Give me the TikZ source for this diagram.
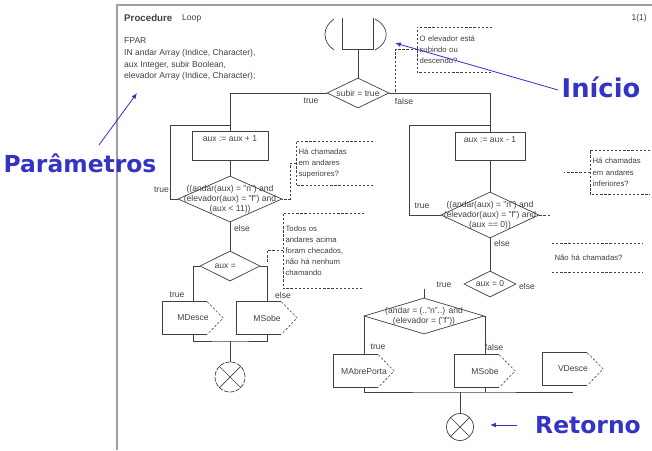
\documentclass[tikz,border=0pt]{standalone}
\usepackage{fontspec}
\setmainfont{Liberation Sans}
\newfontfamily\callfont{DejaVu Sans}
\usetikzlibrary{shapes.geometric,calc,arrows.meta}

\newcommand{\pxu}{0.03cm}
\definecolor{ink}{gray}{0.25}
\definecolor{callblue}{RGB}{52,52,196}

\tikzset{
  flow/.style={draw=ink, line width=0.6pt},
  task/.style={draw=ink, line width=0.6pt, rectangle, inner sep=0pt},
  decision/.style={draw=ink, line width=0.6pt, diamond, inner sep=0pt},
  dtext/.style={font=\fontsize{7.3}{8.4}\selectfont, align=center, inner sep=0pt, text=ink},
  lbl/.style={font=\fontsize{7.3}{8.6}\selectfont, inner sep=0pt, text=ink},
  outbox/.style={rectangle, inner sep=0pt, minimum width=60*\pxu, minimum height=32*\pxu,
    font=\fontsize{7.3}{8.6}\selectfont, text=ink},
  note/.style={draw=ink, line width=0.5pt, dash pattern=on 2pt off 1.5pt},
  notetext/.style={font=\fontsize{6.6}{9.5}\selectfont, align=left, anchor=north west,
    inner sep=2pt, text=ink},
  ret/.style={draw=ink, line width=0.6pt, circle, inner sep=0pt},
  callout/.style={font=\callfont\bfseries\fontsize{20}{24}\selectfont, text=callblue, inner sep=0pt},
  callarrow/.style={draw=callblue, line width=0.7pt, -{Latex[length=5pt,width=4pt]}},
}

\begin{document}
\begin{tikzpicture}[x=\pxu, y=-\pxu]
  \useasboundingbox (0,0) rectangle (652,450);
  % page frame and heading
  \draw[gray!75, line width=1.4pt] (117,450) -- (117,5) -- (652,5);
  \node[font=\bfseries\fontsize{8.3}{9}\selectfont, anchor=west, inner sep=0pt, text=ink] (proc) at (124,18) {Procedure};
  \node[lbl, anchor=west] (procname) at (182,18) {Loop};
  \node[lbl, anchor=east] (page) at (647,18) {1(1)};
  \node[lbl, anchor=north west, align=left, font=\fontsize{7.3}{10.2}\selectfont] (fpar) at (124,37)
    {FPAR\\IN andar Array (Indice, Character),\\aux Integer, subir Boolean,\\elevador Array (Indice, Character);};

  % start symbol
  \node[minimum width=30*\pxu, minimum height=31*\pxu, inner sep=0pt] (start) at (358,34) {};
  \draw[flow] (start.north west) -- (start.south west) -- (start.south east) -- (start.north east);
  \draw[flow] (334,19) .. controls (322,27) and (322,42) .. (334,50);
  \draw[flow] (375,19) .. controls (390,27) and (390,42) .. (375,50);

  % first decision
  \node[decision, minimum width=62*\pxu, minimum height=30*\pxu, label={[dtext]center:subir = true}] (d1) at (358,93) {};
  \draw[flow] (start.south) -- (d1.north);
  \node[lbl] (d1true) at (311,101) {true};
  \node[lbl] (d1false) at (404,101) {false};

  % going up
  \node[task, minimum width=76*\pxu, minimum height=29*\pxu,
    label={[lbl, anchor=north, yshift=-4pt]north:{aux := aux + 1}}] (inc) at (230,146) {};
  \draw[flow] (d1.west) -| (inc.north);
  \node[decision, minimum width=104*\pxu, minimum height=46*\pxu,
    label={[dtext]center:{((andar(aux) = "n") and\\(elevador(aux) = "f") and\\(aux < 11))}}] (d2) at (230,199) {};
  \draw[flow] (inc.south) -- (d2.north);
  \coordinate (lp1) at (170,125);
  \coordinate (lj1) at (230,125);
  \draw[flow] (d2.west) -| (lp1) -- (lj1);
  \node[lbl, anchor=east] (d2true) at (169,190) {true};
  \node[lbl, anchor=west] (d2else) at (234,228) {else};
  \node[decision, minimum width=60*\pxu, minimum height=30*\pxu,
    label={[dtext, xshift=-3pt]center:{aux = }}] (d3) at (230,266) {};
  \draw[flow] (d2.south) -- (d3.north);
  \node[lbl] (d3true) at (177,295) {true};
  \node[lbl] (d3else) at (283,295) {else};

  \node[outbox] (desce) at (193,318) {MDesce};
  \draw[flow] ($(desce.north east)+(-16,0)$) -- (desce.north west) -- (desce.south west) -- ($(desce.south east)+(-16,0)$);
  \draw[note] ($(desce.north east)+(-16,0)$) -- (desce.east) -- ($(desce.south east)+(-16,0)$);
  \node[outbox] (sobe1) at (267,318) {MSobe};
  \draw[flow] ($(sobe1.north east)+(-16,0)$) -- (sobe1.north west) -- (sobe1.south west) -- ($(sobe1.south east)+(-16,0)$);
  \draw[note] ($(sobe1.north east)+(-16,0)$) -- (sobe1.east) -- ($(sobe1.south east)+(-16,0)$);
  \draw[flow] (d3.west) -| (desce.north);
  \draw[flow] (d3.east) -| (sobe1.north);

  \coordinate (bus1) at (230,341);
  \draw[flow] (desce.south) |- (bus1) -| (sobe1.south);
  \node[ret, minimum size=30*\pxu, dash pattern=on 4pt off 1pt] (end1) at (230,377) {};
  \draw[flow] (bus1) -- (end1.north);
  \draw[flow] (end1.north west) -- (end1.south east) (end1.north east) -- (end1.south west);

  % going down
  \node[task, minimum width=70*\pxu, minimum height=28*\pxu,
    label={[lbl, anchor=north, yshift=-4pt]north:{aux := aux - 1}}] (dec) at (490,146) {};
  \draw[flow] (d1.east) -| (dec.north);
  \node[decision, minimum width=98*\pxu, minimum height=46*\pxu,
    label={[dtext]center:{((andar(aux) = "n") and\\(elevador(aux) = "f") and\\(aux == 0))}}] (d4) at (490,215) {};
  \draw[flow] (dec.south) -- (d4.north);
  \coordinate (lp2) at (409,125);
  \coordinate (lj2) at (490,125);
  \draw[flow] (d4.west) -| (lp2) -- (lj2);
  \node[lbl] (d4true) at (422,206) {true};
  \node[lbl, anchor=west] (d4else) at (494,243) {else};
  \node[decision, minimum width=52*\pxu, minimum height=26*\pxu,
    label={[dtext]center:{aux = 0}}] (d5) at (490,284) {};
  \draw[flow] (d4.south) -- (d5.north);
  \node[lbl] (d5true) at (444,285) {true};
  \node[lbl] (d5else) at (527,286) {else};

  \node[decision, minimum width=120*\pxu, minimum height=36*\pxu,
    label={[dtext]center:{(andar = (.."n"..) and\\(elevador = ("f"))}}] (d6) at (424,316) {};
  \coordinate (t5) at (424,289);
  \draw[flow] (t5) -- (d6.north);
  \node[lbl] (d6true) at (378,347) {true};
  \node[lbl] (d6false) at (494,347) {false};

  \node[outbox] (abre) at (364,371) {MAbrePorta};
  \draw[flow] ($(abre.north east)+(-16,0)$) -- (abre.north west) -- (abre.south west) -- ($(abre.south east)+(-16,0)$);
  \draw[note] ($(abre.north east)+(-16,0)$) -- (abre.east) -- ($(abre.south east)+(-16,0)$);
  \node[outbox] (sobe2) at (485,371) {MSobe};
  \draw[flow] ($(sobe2.north east)+(-16,0)$) -- (sobe2.north west) -- (sobe2.south west) -- ($(sobe2.south east)+(-16,0)$);
  \draw[note] ($(sobe2.north east)+(-16,0)$) -- (sobe2.east) -- ($(sobe2.south east)+(-16,0)$);
  \node[outbox] (vdesce) at (573,369) {VDesce};
  \draw[flow] ($(vdesce.north east)+(-16,0)$) -- (vdesce.north west) -- (vdesce.south west) -- ($(vdesce.south east)+(-16,0)$);
  \draw[note] ($(vdesce.north east)+(-16,0)$) -- (vdesce.east) -- ($(vdesce.south east)+(-16,0)$);
  \draw[flow] (d6.west) -| (abre.north);
  \draw[flow] (d6.east) -| (sobe2.north);

  \coordinate (bus2) at (460,392);
  \draw[flow] (abre.south) |- (bus2) -- (vdesce.south |- bus2);
  \draw[flow] (sobe2.south) -- (sobe2.south |- bus2);
  \node[ret, minimum size=27*\pxu] (end2) at (460,427) {};
  \draw[flow] (bus2) -- (end2.north);
  \draw[flow] (end2.north west) -- (end2.south east) (end2.north east) -- (end2.south west);

  % comments
  \node[notetext, text width=70*\pxu, minimum height=45*\pxu] (cdir) at (417,27) {O elevador está\\subindo ou\\descendo?};
  \draw[note] (cdir.north east) -- (cdir.north west) -- (cdir.south west) -- (cdir.south east);
  \coordinate (kdir) at (395,93);
  \draw[note] (cdir.west) -| (kdir);

  \node[notetext, text width=72*\pxu, minimum height=44*\pxu] (csup) at (296,141) {Há chamadas\\em andares\\superiores?};
  \draw[note] (csup.north east) -- (csup.north west) -- (csup.south west) -- (csup.south east);
  \coordinate (ksup) at (290,199);
  \draw[note] (csup.west) -| (ksup) -- (d2.east);

  \node[notetext, text width=76*\pxu, minimum height=75*\pxu] (ctodos) at (283,213)
    {Todos os\\andares acima\\foram checados,\\não há nenhum\\chamando};
  \draw[note] (ctodos.north east) -- (ctodos.north west) -- (ctodos.south west) -- (ctodos.south east);
  \coordinate (ktodos) at (267,262);
  \draw[note] (ctodos.west) -| (ktodos);

  \node[notetext, text width=55*\pxu, minimum height=44*\pxu] (cinf) at (590,150) {Há chamadas\\em andares\\inferiores?};
  \draw[note] (cinf.north east) -- (cinf.north west) -- (cinf.south west) -- (cinf.south east);
  \draw[note] (cinf.west) -- ++(-26,0);
  \draw[note] (d4.east) -- ++(12,0);

  \node[notetext, text width=86*\pxu, minimum height=29*\pxu] (cnao) at (552,243) {Não há chamadas?};
  \draw[note] (cnao.north west) -- (cnao.north east) (cnao.south west) -- (cnao.south east);

  % callouts
  \node[callout] (params) at (80,163) {Parâmetros};
  \coordinate (paramsA) at (99,145);
  \coordinate (paramsB) at (137,93);
  \draw[callarrow] (paramsA) -- (paramsB);
  \node[callout, font=\callfont\bfseries\fontsize{22}{26}\selectfont] (inicio) at (601,87) {Início};
  \coordinate (inicioA) at (558,90);
  \coordinate (inicioB) at (395,43);
  \draw[callarrow] (inicioA) -- (inicioB);
  \node[callout] (retorno) at (588,425) {Retorno};
  \coordinate (retornoA) at (517,425);
  \coordinate (retornoB) at (490,425);
  \draw[callarrow] (retornoA) -- (retornoB);
\end{tikzpicture}
\end{document}
